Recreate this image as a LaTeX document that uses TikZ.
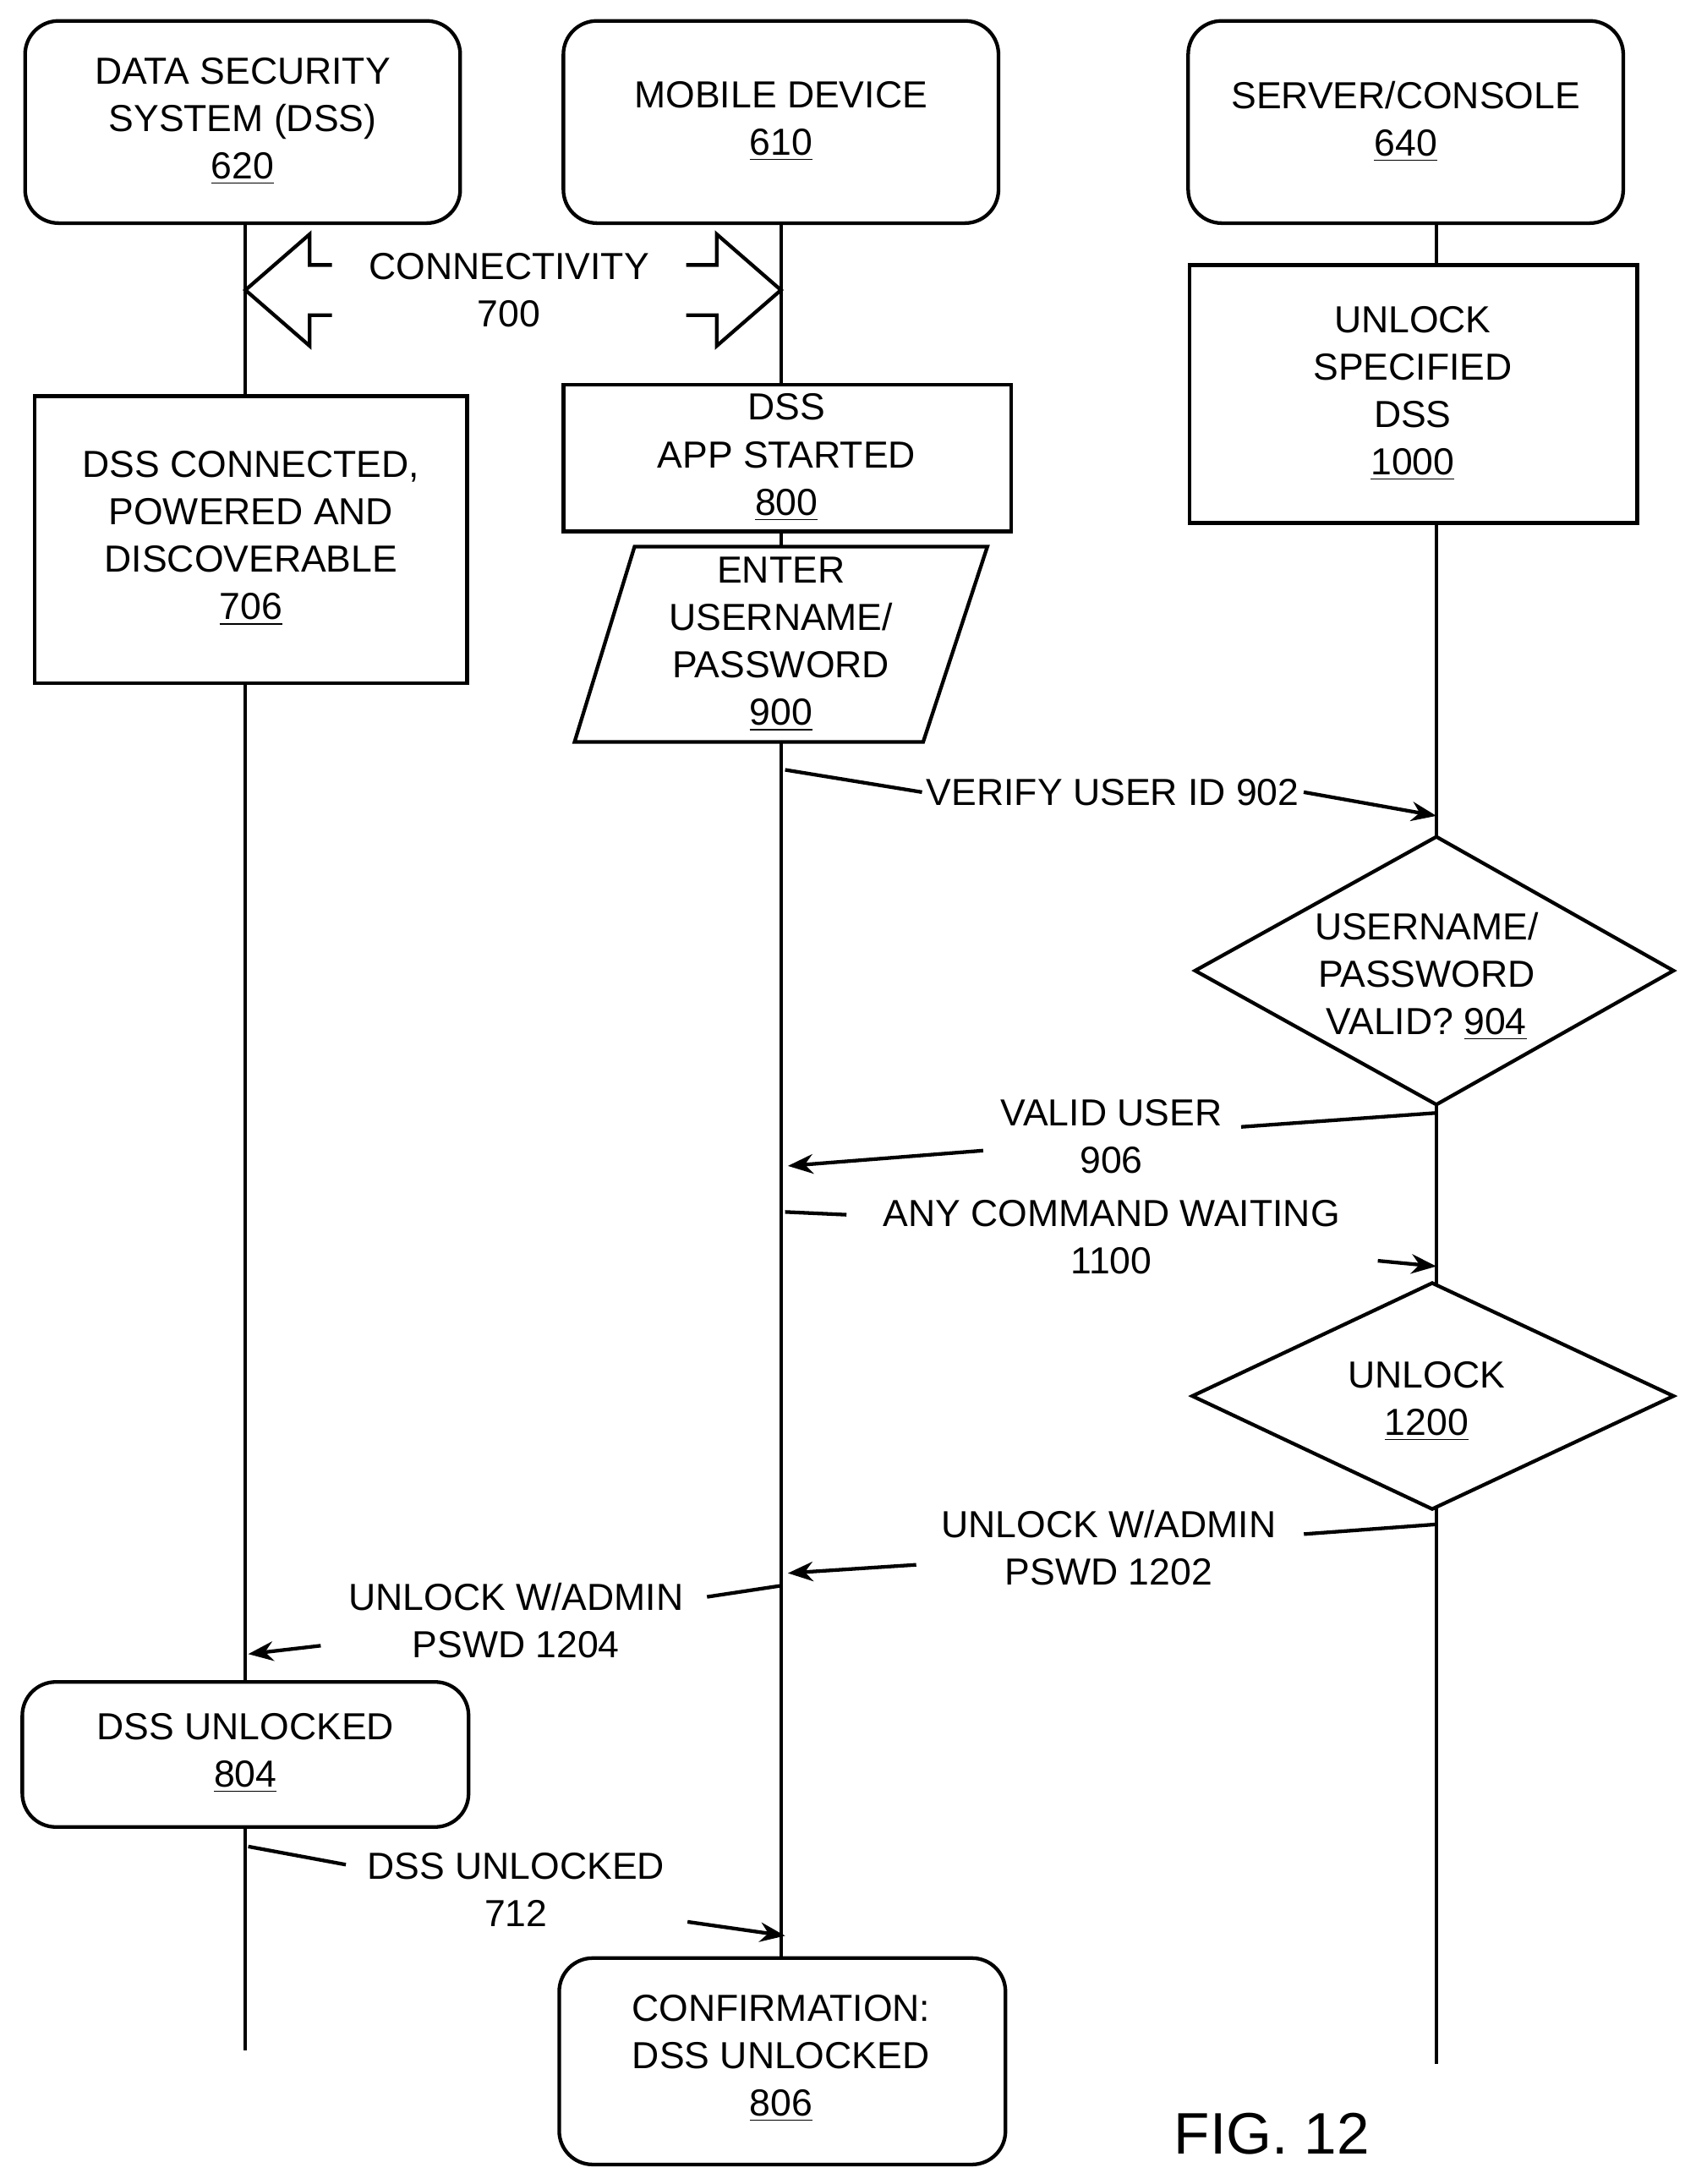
\documentclass[tikz,border=0pt]{standalone}
\usepackage{fontspec}
\setmainfont{Liberation Sans}
\usetikzlibrary{arrows.meta}
\begin{document}
\begin{tikzpicture}[x=0.5pt,y=-0.5pt,line width=1.3pt,
 every node/.style={font=\fontsize{13.5}{17}\selectfont,align=center},
 rbox/.style={draw,rounded corners=12pt},
 arr/.style={-{Stealth[length=9pt,width=7pt]}},
 lbl/.style={inner sep=1pt}]
\useasboundingbox (0,0) rectangle (1216,1566);
% lifelines
\coordinate (dT) at (176,160); \coordinate (dB) at (176,1470);
\coordinate (mT) at (560,160); \coordinate (mB) at (560,1404);
\coordinate (sT) at (1030,160); \coordinate (sB) at (1030,1480);
\draw (dT)--(dB); \draw (mT)--(mB); \draw (sT)--(sB);
% top boxes
\draw[rbox,fill=white] (18,15) rectangle (330,160);
\node (dss) at (174,87) {DATA SECURITY\\SYSTEM (DSS)\\\underline{620}};
\draw[rbox,fill=white] (404,15) rectangle (716,160);
\node (mob) at (560,87) {MOBILE DEVICE\\\underline{610}};
\draw[rbox,fill=white] (852,15) rectangle (1164,160);
\node (srv) at (1008,87) {SERVER/CONSOLE\\\underline{640}};
% connectivity arrow
\draw[fill=white,draw=none] (176,208)--(222,168)--(222,190)--(514,190)--(514,168)--(560,208)--(514,248)--(514,226)--(222,226)--(222,248)--cycle;
\draw (238,190)--(222,190)--(222,168)--(176,208)--(222,248)--(222,226)--(238,226);
\draw (492,190)--(514,190)--(514,168)--(560,208)--(514,248)--(514,226)--(492,226);
\node (conn) at (365,208) {CONNECTIVITY\\700};
% boxes
\draw[fill=white] (25,284) rectangle (335,490);
\node (b706) at (180,386) {DSS CONNECTED,\\POWERED AND\\DISCOVERABLE\\\underline{706}};
\draw[fill=white] (404,276) rectangle (725,381);
\node (b800) at (564,328) {DSS\\APP STARTED\\\underline{800}};
\draw[fill=white] (455,392)--(708,392)--(662,532)--(412,532)--cycle;
\node (b900) at (560,462) {ENTER\\USERNAME/\\PASSWORD\\\underline{900}};
\draw[fill=white] (853,190) rectangle (1174,375);
\node (b1000) at (1013,282) {UNLOCK\\SPECIFIED\\DSS\\\underline{1000}};
\draw[fill=white] (1030,600)--(1200,696)--(1030,792)--(857,696)--cycle;
\node (d904) at (1023,700) {USERNAME/\\PASSWORD\\VALID? \underline{904}};
\draw[fill=white] (1027,920)--(1200,1001)--(1027,1082)--(855,1001)--cycle;
\node (d1200) at (1023,1005) {UNLOCK\\\underline{1200}};
\draw[rbox,fill=white] (16,1206) rectangle (336,1310);
\node (b804) at (176,1257) {DSS UNLOCKED\\\underline{804}};
\draw[rbox,fill=white] (401,1404) rectangle (721,1552);
\node (b806) at (560,1476) {CONFIRMATION:\\DSS UNLOCKED\\\underline{806}};
\node (fig) at (912,1530) {\fontsize{21}{25}\selectfont FIG. 12};
% messages
\node[lbl] (m902) at (798,568) {VERIFY USER ID 902};
\draw (563,552)--(m902.west); \draw[arr] (m902.east)--(1030,585);
\node[lbl] (m906) at (797,815) {VALID USER\\906};
\draw (1030,798)--(890,808); \draw[arr] (705,825)--(565,836);
\node[lbl] (m1100) at (797,887) {ANY COMMAND WAITING\\1100};
\draw (563,869)--(607,871); \draw[arr] (988,904)--(1030,908);
\node[lbl] (m1202) at (795,1110) {UNLOCK W/ADMIN\\PSWD 1202};
\draw (1030,1093)--(935,1100); \draw[arr] (657,1122)--(565,1128);
\node[lbl] (m1204) at (370,1162) {UNLOCK W/ADMIN\\PSWD 1204};
\draw (560,1137)--(507,1145); \draw[arr] (230,1180)--(178,1186);
\node[lbl] (m712) at (370,1355) {DSS UNLOCKED\\712};
\draw (178,1324)--(248,1337); \draw[arr] (493,1378)--(563,1388);
\end{tikzpicture}
\end{document}
